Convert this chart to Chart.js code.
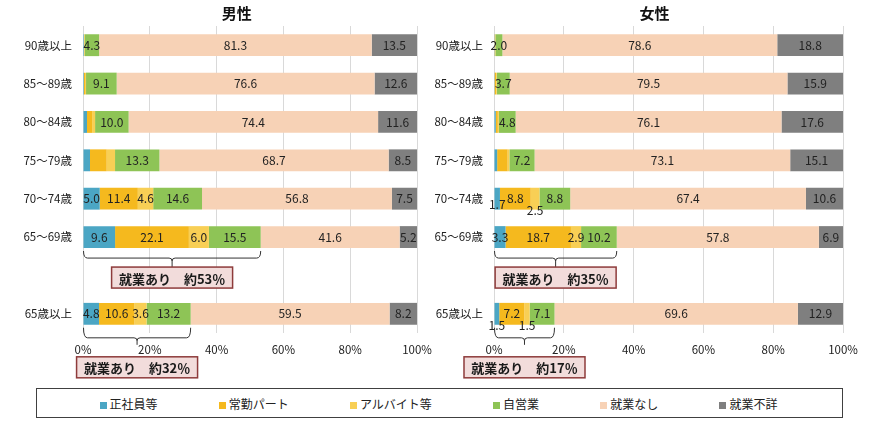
<!DOCTYPE html>
<html>
<head>
<meta charset="utf-8">
<script src="https://cdn.jsdelivr.net/npm/chart.js@4.4.0/dist/chart.umd.min.js"></script>
<style>
  body { margin: 0; background: #fff; }
  #wrap { position: relative; width: 871px; height: 424px; background: #fff; }
  canvas { position: absolute; top: 0; }
  #legend {
    position: absolute; left: 36px; top: 388px; width: 807px; height: 30px;
    border: 1px solid #404040; box-sizing: border-box;
    display: flex; justify-content: space-around; align-items: center;
    padding: 0 34px 0 32px;
    font: 12px "Noto Sans CJK JP", sans-serif; color: #222;
  }
  #legend span.sw { display: inline-block; width: 7px; height: 7px; margin-right: 3px; vertical-align: 0px; }
</style>
</head>
<body>
<div id="wrap">
  <canvas id="maleChart" width="435" height="388" style="left:0"></canvas>
  <canvas id="femaleChart" width="436" height="388" style="left:435px"></canvas>
  <div id="legend"></div>
</div>
<script>
  const categories = ['90歳以上', '85～89歳', '80～84歳', '75～79歳', '70～74歳', '65～69歳', '', '65歳以上'];
  const seriesNames = ['正社員等', '常勤パート', 'アルバイト等', '自営業', '就業なし', '就業不詳'];
  const seriesColors = ['#4BA6C4', '#F5B91E', '#F8CF55', '#8EC456', '#F7D2B6', '#7F7F7F'];
  const xTicks = [0, 20, 40, 60, 80, 100];

  // 男性
  const maleSeishain = [0.3, 0.3, 1.2, 2.1, 5.0, 9.6, null, 4.8];
  const maleJokin    = [0.1, 0.3, 1.5, 5.0, 11.4, 22.1, null, 10.6];
  const maleArbeit   = [0.1, 0.3, 0.9, 2.5, 4.6, 6.0, null, 3.6];
  const maleJiei     = [4.3, 9.1, 10.0, 13.3, 14.6, 15.5, null, 13.2];
  const maleNashi    = [81.3, 76.6, 74.4, 68.7, 56.8, 41.6, null, 59.5];
  const maleFusho    = [13.5, 12.6, 11.6, 8.5, 7.5, 5.2, null, 8.2];

  // 女性
  const femaleSeishain = [0.2, 0.2, 0.5, 0.9, 1.7, 3.3, null, 1.5];
  const femaleJokin    = [0.1, 0.4, 0.6, 3.0, 8.8, 18.7, null, 7.2];
  const femaleArbeit   = [0.1, 0.2, 0.3, 0.5, 2.5, 2.9, null, 1.5];
  const femaleJiei     = [2.0, 3.7, 4.8, 7.2, 8.8, 10.2, null, 7.1];
  const femaleNashi    = [78.6, 79.5, 76.1, 73.1, 67.4, 57.8, null, 69.6];
  const femaleFusho    = [18.8, 15.9, 17.6, 15.1, 10.6, 6.9, null, 12.9];

  // rows where the job-type breakdown gets value labels
  const detailRows = ['70～74歳', '65～69歳', '65歳以上'];
  // "就業あり" braces
  const braces = [
    { row: '65～69歳', lineDy: 21, tickDy: 30, boxDy: 30 },
    { row: '65歳以上', lineDy: 24, tickDy: 31, boxDy: 43 }
  ];

  Chart.defaults.font.family = '"Noto Sans CJK JP", sans-serif';
  Chart.defaults.color = '#222';

  function buildDatasets(series) {
    const totals = categories.map((c, i) => series.reduce((s, arr) => s + (arr[i] || 0), 0));
    return series.map((arr, k) => ({
      label: seriesNames[k],
      data: arr.map((v, i) => v == null ? null : v / totals[i] * 100),
      raw: arr,
      backgroundColor: seriesColors[k],
      barPercentage: 0.57,
      categoryPercentage: 1
    }));
  }

  const extras = {
    id: 'extras',
    afterDatasetsDraw(chart) {
      const ctx = chart.ctx;
      ctx.save();
      ctx.font = '12px "Noto Sans CJK JP"';
      ctx.fillStyle = '#222';
      ctx.textAlign = 'center';
      ctx.textBaseline = 'middle';
      chart.data.datasets.forEach((ds, k) => {
        chart.getDatasetMeta(k).data.forEach((bar, i) => {
          const v = ds.raw[i];
          if (v == null) return;
          if (k < 3 && !detailRows.includes(categories[i])) return;
          const cx = (bar.x + bar.base) / 2;
          let cy = bar.y;
          if (k < 3 && v < 2.6) cy = bar.y + (k === 0 && v > 1.6 ? 6 : 12);
          ctx.fillText(v.toFixed(1), cx, cy);
        });
      });
      ctx.restore();
    },
    afterDraw(chart, args, opts) {
      const ctx = chart.ctx;
      const area = chart.chartArea;
      ctx.save();
      ctx.fillStyle = '#111';
      ctx.textAlign = 'center';
      ctx.textBaseline = 'middle';
      ctx.font = 'bold 15px "Noto Sans CJK JP"';
      ctx.fillText(opts.title, area.left + (area.right - area.left) * 0.46, 13);

      const ds = chart.data.datasets;
      braces.forEach(b => {
        const i = categories.indexOf(b.row);
        const first = chart.getDatasetMeta(0).data[i];
        const last = chart.getDatasetMeta(3).data[i];
        const x0 = first.base, x1 = last.x, xc = (x0 + x1) / 2;
        const yC = first.y;
        const yTop = yC + first.height / 2 + 3;
        const yLine = yC + b.lineDy;
        ctx.strokeStyle = '#333';
        ctx.lineWidth = 1;
        ctx.beginPath();
        ctx.moveTo(x0, yTop);
        ctx.quadraticCurveTo(x0, yLine, x0 + 4, yLine);
        ctx.lineTo(xc - 3, yLine);
        ctx.quadraticCurveTo(xc, yLine, xc, yLine + 3);
        ctx.quadraticCurveTo(xc, yLine, xc + 3, yLine);
        ctx.lineTo(x1 - 4, yLine);
        ctx.quadraticCurveTo(x1, yLine, x1, yTop);
        ctx.moveTo(xc, yLine + 3);
        ctx.lineTo(xc, yC + b.tickDy);
        ctx.stroke();

        const employed = [0, 1, 2, 3].reduce((s, k) => s + ds[k].raw[i], 0);
        const w = 121, h = 21, bx = xc - w / 2, by = yC + b.boxDy;
        ctx.fillStyle = '#F2DCDB';
        ctx.fillRect(bx, by, w, h);
        ctx.strokeStyle = '#8E3B3B';
        ctx.lineWidth = 1.5;
        ctx.strokeRect(bx, by, w, h);
        ctx.fillStyle = '#1a1a1a';
        ctx.font = 'bold 13px "Noto Sans CJK JP"';
        ctx.fillText('就業あり　約' + Math.round(employed) + '％', xc, by + h / 2 + 1);
      });
      ctx.restore();
    }
  };

  function makeChart(id, title, series, yWidth, rightPad) {
    return new Chart(document.getElementById(id), {
      type: 'bar',
      data: { labels: categories, datasets: buildDatasets(series) },
      options: {
        indexAxis: 'y',
        responsive: false,
        animation: false,
        devicePixelRatio: 1,
        layout: { padding: { top: 26, right: rightPad, bottom: 25, left: 0 } },
        plugins: {
          legend: { display: false },
          tooltip: { enabled: false },
          extras: { title: title }
        },
        scales: {
          x: {
            stacked: true,
            min: 0,
            max: 100,
            afterBuildTicks: axis => { axis.ticks = xTicks.map(v => ({ value: v })); },
            ticks: { callback: v => v + '%', padding: 10, font: { size: 11.5 }, maxRotation: 0 },
            grid: { color: '#d9d9d9', drawTicks: false },
            border: { display: false },
            afterFit: s => { s.height = 30; s.paddingLeft = 0; s.paddingRight = 0; }
          },
          y: {
            stacked: true,
            ticks: { padding: 11, font: { size: 11.5 } },
            grid: { display: false, drawTicks: false },
            border: { display: false },
            afterFit: s => { s.width = yWidth; s.paddingTop = 0; s.paddingBottom = 0; }
          }
        }
      },
      plugins: [extras]
    });
  }

  makeChart('maleChart', '男性',
    [maleSeishain, maleJokin, maleArbeit, maleJiei, maleNashi, maleFusho], 83, 18);
  makeChart('femaleChart', '女性',
    [femaleSeishain, femaleJokin, femaleArbeit, femaleJiei, femaleNashi, femaleFusho], 59, 28);

  const legend = document.getElementById('legend');
  seriesNames.forEach((name, k) => {
    const item = document.createElement('div');
    item.innerHTML = '<span class="sw" style="background:' + seriesColors[k] + '"></span>' + name;
    legend.appendChild(item);
  });
</script>
</body>
</html>
